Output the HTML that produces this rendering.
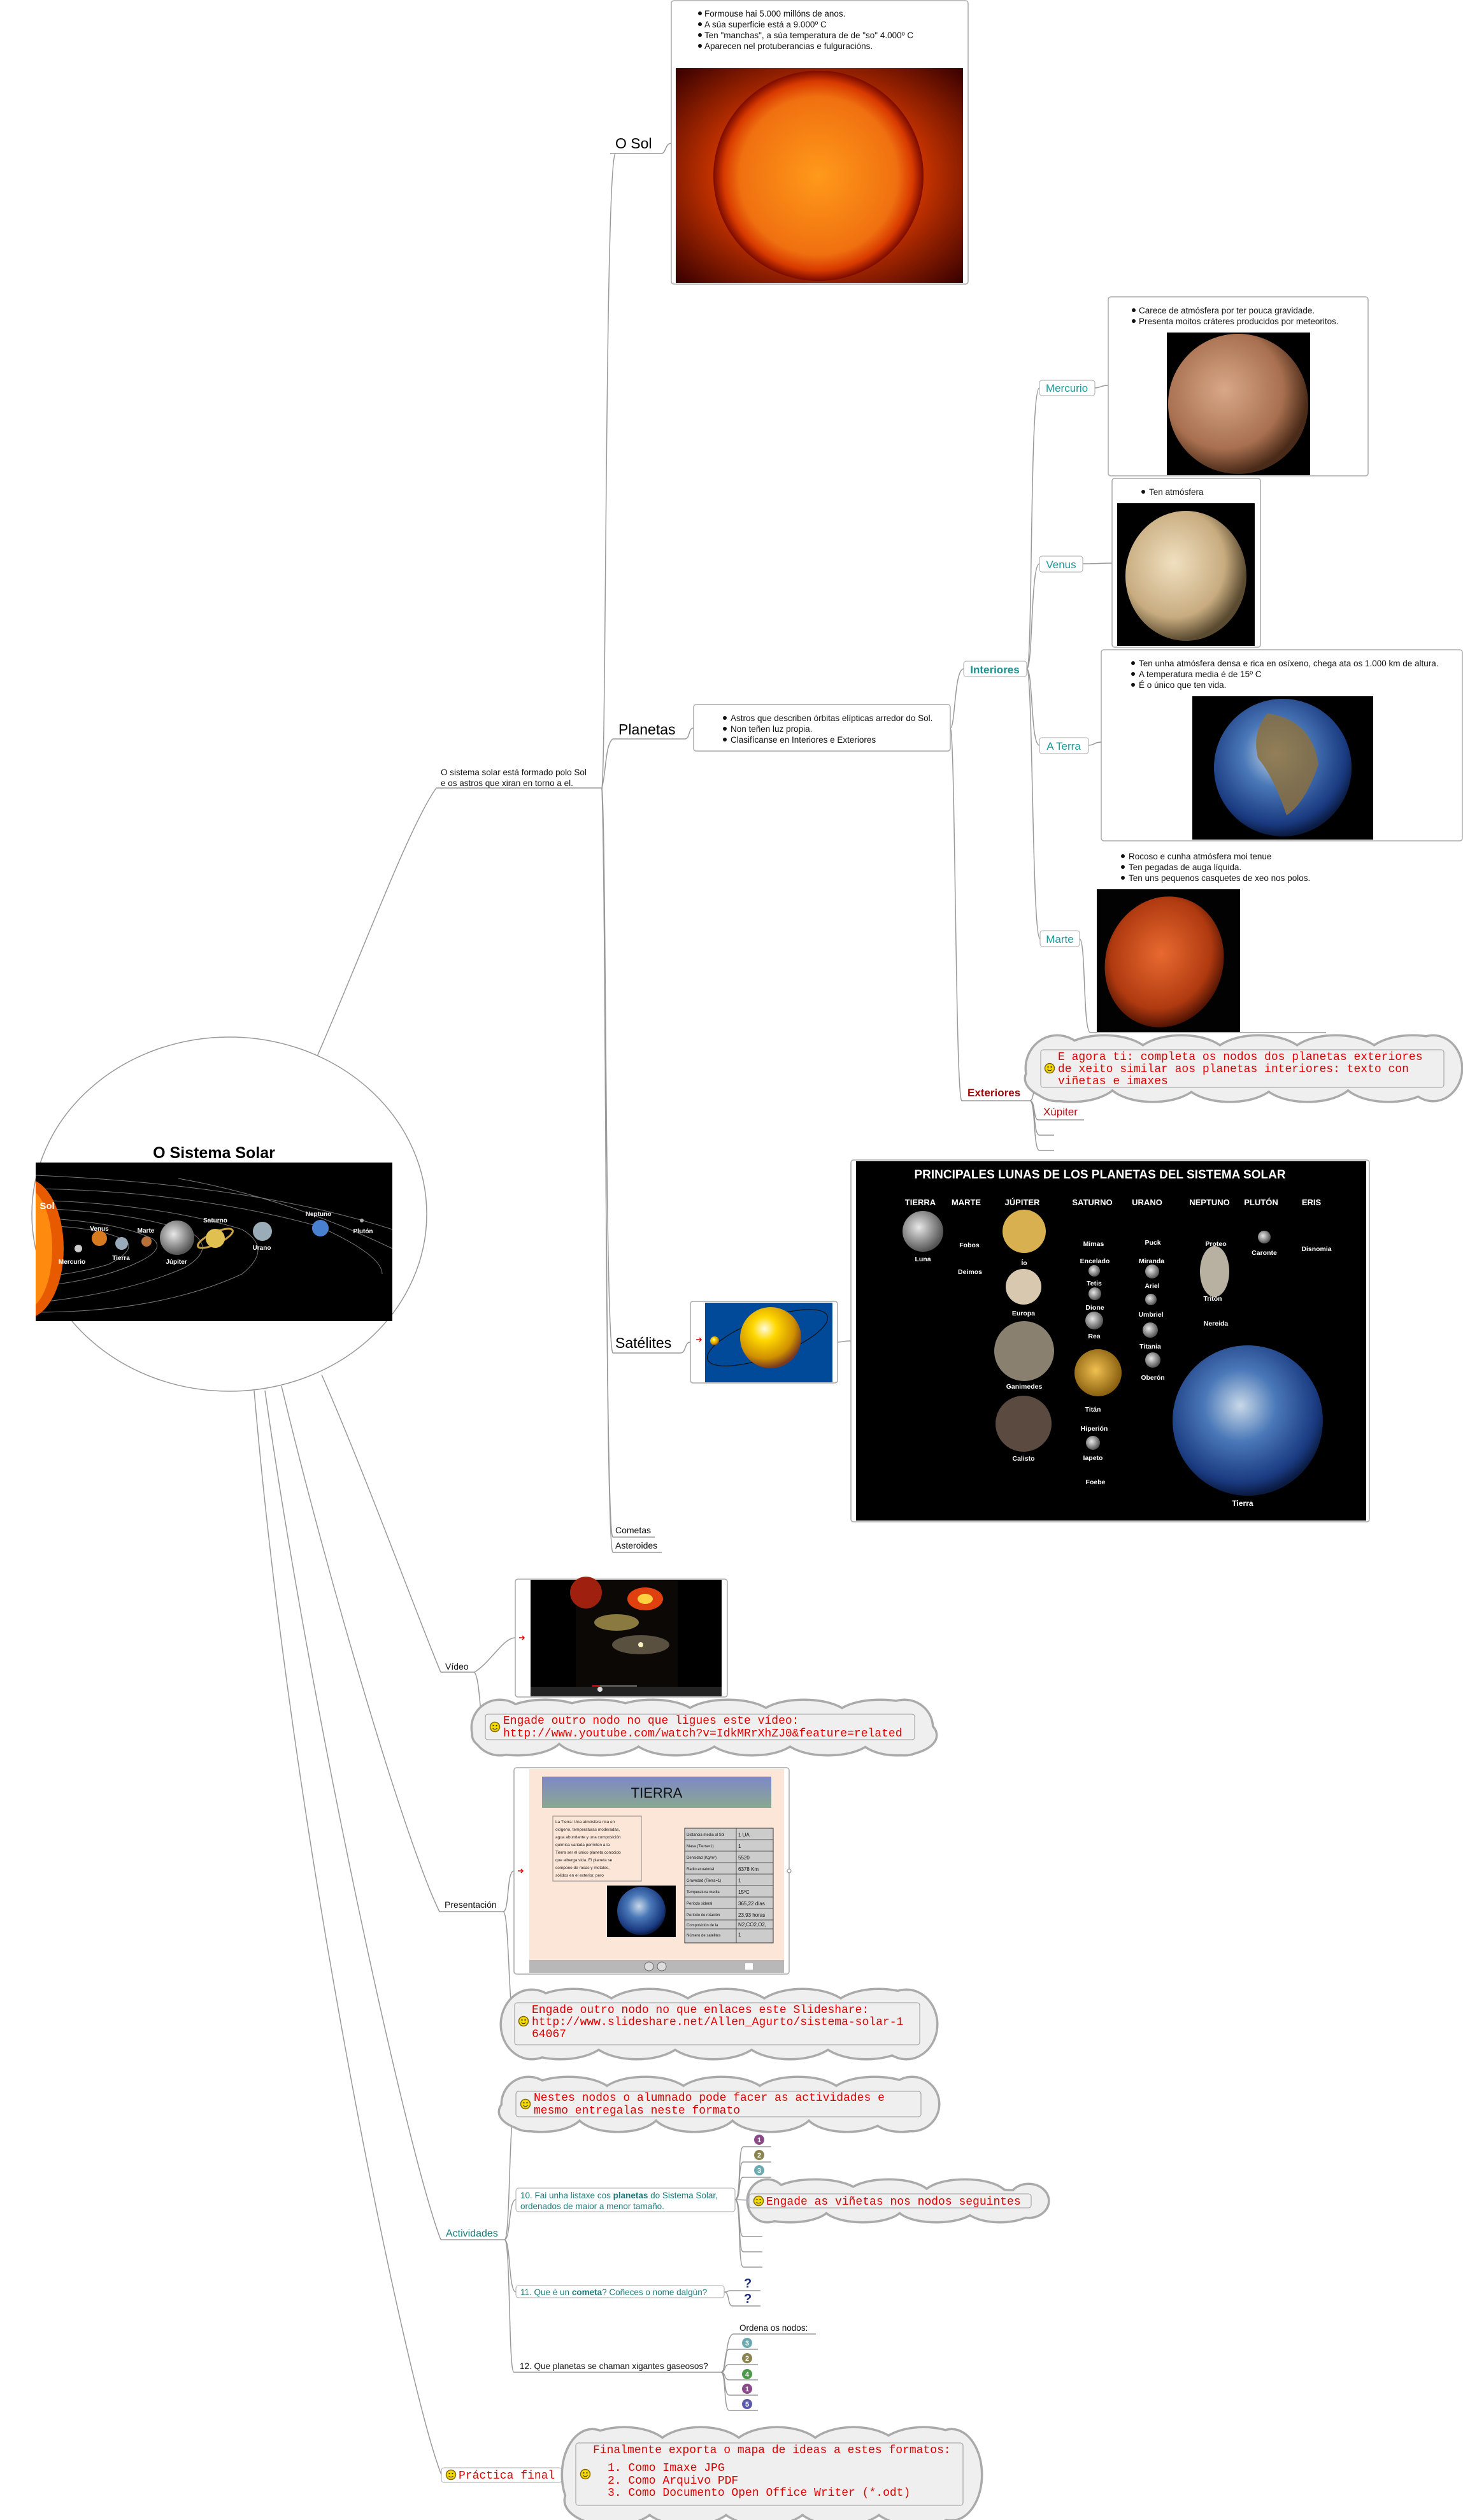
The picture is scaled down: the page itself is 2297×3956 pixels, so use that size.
<!DOCTYPE html>
<html><head><meta charset="utf-8">
<style>
html,body{margin:0;padding:0;background:#fff;}
body{width:2297px;height:3956px;position:relative;overflow:hidden;font-family:"Liberation Sans",sans-serif;}
svg{position:absolute;left:0;top:0;}
</style></head><body>
<svg width="2297" height="3956" viewBox="0 0 2297 3956" xmlns="http://www.w3.org/2000/svg" font-family="Liberation Sans, sans-serif">
<defs>
<radialGradient id="sun" cx="50%" cy="50%" r="50%"><stop offset="0" stop-color="#ff9a1a"/><stop offset="0.75" stop-color="#f07010"/><stop offset="0.9" stop-color="#d83a00"/><stop offset="1" stop-color="#7a0a00"/></radialGradient>
<radialGradient id="sunbg" cx="50%" cy="50%" r="70%"><stop offset="0.4" stop-color="#e84000"/><stop offset="1" stop-color="#3a0000"/></radialGradient>
<radialGradient id="merc" cx="40%" cy="40%" r="60%"><stop offset="0" stop-color="#d8a888"/><stop offset="0.7" stop-color="#a87050"/><stop offset="1" stop-color="#4a2a18"/></radialGradient>
<radialGradient id="ven" cx="40%" cy="40%" r="60%"><stop offset="0" stop-color="#f0e0c0"/><stop offset="0.7" stop-color="#c8ac80"/><stop offset="1" stop-color="#5a4a30"/></radialGradient>
<radialGradient id="earth" cx="45%" cy="40%" r="60%"><stop offset="0" stop-color="#c8d8e8"/><stop offset="0.4" stop-color="#4a78b8"/><stop offset="0.85" stop-color="#1a3a80"/><stop offset="1" stop-color="#0a1a40"/></radialGradient>
<radialGradient id="mars" cx="45%" cy="45%" r="60%"><stop offset="0" stop-color="#e86a30"/><stop offset="0.7" stop-color="#b03a10"/><stop offset="1" stop-color="#3a0a00"/></radialGradient>
<radialGradient id="yel" cx="40%" cy="35%" r="65%"><stop offset="0" stop-color="#fffbe0"/><stop offset="0.3" stop-color="#ffd800"/><stop offset="0.75" stop-color="#d09000"/><stop offset="1" stop-color="#7a3a20"/></radialGradient>
<radialGradient id="gray" cx="40%" cy="40%" r="60%"><stop offset="0" stop-color="#e8e8e8"/><stop offset="1" stop-color="#555"/></radialGradient>
<radialGradient id="titan" cx="45%" cy="45%" r="55%"><stop offset="0" stop-color="#f0c050"/><stop offset="1" stop-color="#8a6010"/></radialGradient>
<linearGradient id="band" x1="0" y1="0" x2="0" y2="1"><stop offset="0" stop-color="#7e88c8"/><stop offset="1" stop-color="#8aa890"/></linearGradient>
<g id="cA"><rect x="1660" y="1650" width="590" height="55"/><ellipse cx="1660" cy="1677" rx="48" ry="50"/><ellipse cx="2250" cy="1677" rx="44" ry="50"/>
<ellipse cx="1734" cy="1662" rx="72" ry="35"/><ellipse cx="1855" cy="1662" rx="72" ry="35"/><ellipse cx="1976" cy="1662" rx="72" ry="35"/><ellipse cx="2097" cy="1662" rx="72" ry="35"/><ellipse cx="2218" cy="1662" rx="72" ry="35"/>
<ellipse cx="1683" cy="1693" rx="72" ry="35"/><ellipse cx="1810" cy="1693" rx="72" ry="35"/><ellipse cx="1931" cy="1693" rx="72" ry="35"/><ellipse cx="2053" cy="1693" rx="72" ry="35"/><ellipse cx="2180" cy="1693" rx="72" ry="35"/></g>
<g id="cV"><rect x="785" y="2690" width="635" height="45"/><ellipse cx="785" cy="2712" rx="43" ry="42"/><ellipse cx="1420" cy="2712" rx="43" ry="42"/>
<ellipse cx="856" cy="2700" rx="72" ry="30"/><ellipse cx="1024" cy="2700" rx="72" ry="30"/><ellipse cx="1143" cy="2700" rx="72" ry="30"/><ellipse cx="1262" cy="2700" rx="72" ry="30"/><ellipse cx="1382" cy="2700" rx="72" ry="30"/><ellipse cx="940" cy="2700" rx="72" ry="30"/>
<ellipse cx="813" cy="2724" rx="70" ry="30"/><ellipse cx="943" cy="2724" rx="70" ry="30"/><ellipse cx="1062" cy="2724" rx="70" ry="30"/><ellipse cx="1181" cy="2724" rx="70" ry="30"/><ellipse cx="1300" cy="2724" rx="70" ry="30"/><ellipse cx="1409" cy="2724" rx="60" ry="30"/></g>
<g id="cP"><rect x="835" y="3145" width="588" height="65"/><ellipse cx="835" cy="3178" rx="47" ry="53"/><ellipse cx="1423" cy="3178" rx="47" ry="53"/>
<ellipse cx="900" cy="3162" rx="75" ry="38"/><ellipse cx="1020" cy="3162" rx="75" ry="38"/><ellipse cx="1140" cy="3162" rx="75" ry="38"/><ellipse cx="1260" cy="3162" rx="75" ry="38"/><ellipse cx="1380" cy="3162" rx="75" ry="38"/>
<ellipse cx="880" cy="3193" rx="75" ry="38"/><ellipse cx="1000" cy="3193" rx="75" ry="38"/><ellipse cx="1120" cy="3193" rx="75" ry="38"/><ellipse cx="1240" cy="3193" rx="75" ry="38"/><ellipse cx="1360" cy="3193" rx="75" ry="38"/></g>
<g id="cN"><rect x="830" y="3282" width="602" height="42"/><ellipse cx="830" cy="3303" rx="41" ry="41"/><ellipse cx="1432" cy="3303" rx="41" ry="41"/>
<ellipse cx="893" cy="3292" rx="70" ry="30"/><ellipse cx="1013" cy="3292" rx="70" ry="30"/><ellipse cx="1133" cy="3292" rx="70" ry="30"/><ellipse cx="1253" cy="3292" rx="70" ry="30"/><ellipse cx="1373" cy="3292" rx="70" ry="30"/>
<ellipse cx="850" cy="3315" rx="65" ry="30"/><ellipse cx="970" cy="3315" rx="65" ry="30"/><ellipse cx="1090" cy="3315" rx="65" ry="30"/><ellipse cx="1210" cy="3315" rx="65" ry="30"/><ellipse cx="1330" cy="3315" rx="65" ry="30"/><ellipse cx="1415" cy="3315" rx="50" ry="30"/></g>
<g id="cE"><rect x="1205" y="3440" width="410" height="30"/><ellipse cx="1205" cy="3455" rx="30" ry="32"/><ellipse cx="1615" cy="3455" rx="30" ry="25"/>
<ellipse cx="1280" cy="3448" rx="70" ry="25"/><ellipse cx="1395" cy="3448" rx="65" ry="25"/><ellipse cx="1515" cy="3448" rx="65" ry="25"/>
<ellipse cx="1240" cy="3463" rx="62" ry="24"/><ellipse cx="1355" cy="3463" rx="62" ry="24"/><ellipse cx="1470" cy="3463" rx="62" ry="24"/><ellipse cx="1570" cy="3463" rx="55" ry="24"/></g>
<g id="cF"><rect x="930" y="3835" width="564" height="100"/><ellipse cx="930" cy="3885" rx="46" ry="70"/><ellipse cx="1494" cy="3885" rx="46" ry="70"/>
<ellipse cx="980" cy="3850" rx="72" ry="38"/><ellipse cx="1100" cy="3850" rx="72" ry="38"/><ellipse cx="1220" cy="3850" rx="72" ry="38"/><ellipse cx="1340" cy="3850" rx="72" ry="38"/><ellipse cx="1450" cy="3850" rx="72" ry="38"/>
<ellipse cx="960" cy="3925" rx="72" ry="38"/><ellipse cx="1080" cy="3925" rx="72" ry="38"/><ellipse cx="1200" cy="3925" rx="72" ry="38"/><ellipse cx="1320" cy="3925" rx="72" ry="38"/><ellipse cx="1440" cy="3925" rx="72" ry="38"/></g>
<g id="smile"><circle r="7.5" fill="#f5d800" stroke="#806a00" stroke-width="1.5"/><circle cx="-2.5" cy="-2" r="1.1" fill="#333"/><circle cx="2.5" cy="-2" r="1.1" fill="#333"/><path d="M-3.5,2 Q0,5.5 3.5,2" fill="none" stroke="#333" stroke-width="1"/></g>
</defs>

<!-- connectors -->
<g fill="none" stroke="#999" stroke-width="1.5">
<path d="M487,1683 C560,1520 640,1300 685,1237"/>
<path d="M505,2158 C580,2330 660,2550 692,2625"/>
<path d="M442,2176 C520,2500 640,2900 690,3001"/>
<path d="M416,2183 C490,2700 640,3380 692,3516"/>
<path d="M399,2183 C460,2900 640,3750 693,3885"/>
<line x1="685" y1="1237" x2="945" y2="1237"/>
<path d="M945,1237 C952,1200 950,260 966,241"/>
<path d="M945,1237 C952,1210 950,1170 962,1160"/>
<path d="M945,1237 C952,1300 950,2100 962,2124"/>
<path d="M945,1237 C952,1400 950,2400 962,2413"/>
<path d="M945,1237 C952,1400 950,2420 962,2437"/>
<line x1="958" y1="241" x2="1038" y2="241"/><path d="M1038,241 C1046,241 1044,225 1054,225"/>
<line x1="962" y1="1160" x2="1075" y2="1160"/><path d="M1075,1160 C1084,1160 1080,1143 1089,1143"/>
<path d="M1492,1143 C1500,1143 1498,1050 1513,1050"/>
<path d="M1492,1143 C1500,1143 1500,1728 1510,1728"/><line x1="1510" y1="1728" x2="1617" y2="1728"/>
<path d="M1612,1050 C1622,1050 1616,609 1632,609"/>
<path d="M1612,1050 C1622,1050 1618,885 1632,885"/>
<path d="M1612,1050 C1622,1050 1618,1170 1632,1170"/>
<path d="M1612,1050 C1622,1050 1620,1474 1633,1474"/>
<path d="M1719,609 C1728,609 1728,605 1740,605"/>
<path d="M1700,885 C1720,885 1730,884 1746,884"/>
<path d="M1709,1170 C1718,1170 1718,1165 1729,1165"/>
<path d="M1695,1474 C1705,1474 1700,1621 1712,1621"/><line x1="1712" y1="1621" x2="2082" y2="1621"/>
<path d="M1617,1728 C1626,1728 1622,1677 1634,1677"/>
<path d="M1617,1728 C1626,1728 1622,1758 1630,1758"/><line x1="1630" y1="1758" x2="1702" y2="1758"/>
<path d="M1617,1728 C1626,1728 1622,1782 1632,1782"/><line x1="1632" y1="1782" x2="1655" y2="1782"/>
<path d="M1617,1728 C1626,1728 1622,1806 1632,1806"/><line x1="1632" y1="1806" x2="1655" y2="1806"/>
<line x1="962" y1="2124" x2="1068" y2="2124"/><path d="M1068,2124 C1078,2124 1074,2107 1084,2107"/>
<path d="M1315,2107 C1325,2107 1322,2105 1336,2105"/>
<line x1="962" y1="2413" x2="1028" y2="2413"/><line x1="962" y1="2437" x2="1039" y2="2437"/>
<line x1="692" y1="2625" x2="745" y2="2625"/>
<path d="M745,2625 C770,2610 790,2571 809,2571"/>
<path d="M745,2625 C755,2640 752,2705 762,2711"/>
<line x1="690" y1="3001" x2="790" y2="3001"/>
<path d="M790,3001 C800,3001 795,2937 807,2937"/>
<path d="M790,3001 C800,3001 798,3173 808,3173"/>
<line x1="692" y1="3516" x2="792" y2="3516"/>
<path d="M792,3516 C802,3516 798,3303 810,3303"/>
<path d="M792,3516 C802,3516 798,3453 810,3453"/>
<path d="M792,3516 C802,3516 798,3598 810,3598"/>
<path d="M792,3516 C802,3516 798,3724 807,3724"/><line x1="807" y1="3724" x2="1132" y2="3724"/>
<path d="M1154,3453 C1164,3453 1158,3370 1167,3370"/><line x1="1167" y1="3370" x2="1211" y2="3370"/>
<path d="M1154,3453 C1164,3453 1158,3394 1167,3394"/><line x1="1167" y1="3394" x2="1211" y2="3394"/>
<path d="M1154,3453 C1164,3453 1158,3418 1167,3418"/><line x1="1167" y1="3418" x2="1211" y2="3418"/>
<path d="M1154,3453 L1176,3454"/>
<path d="M1154,3453 C1164,3453 1158,3511 1167,3511"/><line x1="1167" y1="3511" x2="1197" y2="3511"/>
<path d="M1154,3453 C1164,3453 1158,3535 1167,3535"/><line x1="1167" y1="3535" x2="1197" y2="3535"/>
<path d="M1154,3453 C1164,3453 1158,3559 1167,3559"/><line x1="1167" y1="3559" x2="1197" y2="3559"/>
<path d="M1137,3598 C1146,3598 1140,3596 1147,3596"/><line x1="1147" y1="3596" x2="1194" y2="3596"/>
<path d="M1137,3598 C1146,3598 1142,3620 1150,3620"/><line x1="1150" y1="3620" x2="1194" y2="3620"/>
<path d="M1132,3724 C1142,3724 1138,3664 1152,3664"/><line x1="1152" y1="3664" x2="1281" y2="3664"/>
<path d="M1132,3724 C1140,3724 1136,3688 1145,3688"/><line x1="1145" y1="3688" x2="1190" y2="3688"/>
<path d="M1132,3724 C1140,3724 1136,3712 1145,3712"/><line x1="1145" y1="3712" x2="1190" y2="3712"/>
<path d="M1132,3724 C1140,3724 1136,3736 1145,3736"/><line x1="1145" y1="3736" x2="1190" y2="3736"/>
<path d="M1132,3724 C1140,3724 1136,3760 1145,3760"/><line x1="1145" y1="3760" x2="1190" y2="3760"/>
<path d="M1132,3724 C1140,3724 1136,3784 1145,3784"/><line x1="1145" y1="3784" x2="1190" y2="3784"/>
<line x1="882" y1="3885" x2="904" y2="3884"/>
</g>

<!-- central ellipse -->
<ellipse cx="360" cy="1906" rx="310" ry="278" fill="#fff" stroke="#999" stroke-width="1.5"/>
<text x="336" y="1818" font-size="25" font-weight="bold" text-anchor="middle" fill="#000">O Sistema Solar</text>
<rect x="56" y="1825" width="560" height="249" fill="#000"/>
<g fill="none" stroke="#777" stroke-width="1">
<path d="M56,1845 Q400,1860 616,1930"/><path d="M56,1866 Q300,1870 500,1925 Q600,1970 600,2000"/>
<path d="M56,1884 Q250,1890 380,1930 Q430,1960 380,2000 Q250,2060 56,2060"/>
<path d="M80,1898 Q220,1905 300,1935 Q340,1960 290,1990 Q200,2030 56,2045"/>
<path d="M80,1913 Q190,1920 240,1945 Q260,1960 220,1980 Q160,2010 56,2020"/>
<path d="M90,1925 Q170,1930 200,1950 Q210,1965 170,1985 Q120,2000 56,2005"/>
<path d="M280,1850 Q450,1880 616,1960"/>
</g>
<clipPath id="ssclip"><rect x="56" y="1825" width="560" height="249"/></clipPath>
<g clip-path="url(#ssclip)"><ellipse cx="40" cy="1960" rx="60" ry="110" fill="#e85a00"/>
<ellipse cx="40" cy="1960" rx="42" ry="95" fill="#ff8a10"/></g>
<circle cx="123" cy="1960" r="6" fill="#ccc"/><circle cx="156" cy="1944" r="12" fill="#d87a20"/><circle cx="191" cy="1952" r="10" fill="#9ab"/><circle cx="230" cy="1949" r="8" fill="#b8703a"/>
<circle cx="278" cy="1943" r="27" fill="url(#gray)"/><ellipse cx="338" cy="1944" rx="30" ry="9" fill="none" stroke="#c8a040" stroke-width="3" transform="rotate(-25 338 1944)"/><circle cx="338" cy="1944" r="15" fill="#e0c050"/>
<circle cx="412" cy="1933" r="15" fill="#9aacb8"/><circle cx="503" cy="1928" r="13" fill="#4a80d0"/><circle cx="568" cy="1916" r="3" fill="#aaa"/>
<g fill="#fff" font-size="10" font-weight="bold" text-anchor="middle">
<text x="74" y="1898" font-size="15">Sol</text>
<text x="113" y="1984">Mercurio</text><text x="156" y="1932">Venus</text><text x="190" y="1978">Tierra</text><text x="229" y="1935">Marte</text><text x="277" y="1984">Júpiter</text><text x="338" y="1919">Saturno</text><text x="411" y="1962">Urano</text><text x="500" y="1909">Neptuno</text><text x="570" y="1936">Plutón</text>
</g>

<!-- central text -->
<text font-size="13.5" fill="#111"><tspan x="692" y="1217">O sistema solar está formado polo Sol</tspan><tspan x="692" y="1234">e os astros que xiran en torno a el.</tspan></text>

<!-- O Sol -->
<text x="966" y="233" font-size="23" fill="#000">O Sol</text>
<rect x="1054" y="1" width="466" height="445" rx="4" fill="#fff" stroke="#aaa" stroke-width="1.5"/>
<g font-size="13.5" fill="#111"><text x="1106" y="26">Formouse hai 5.000 millóns de anos.</text><text x="1106" y="43">A súa superficie está a 9.000º C</text><text x="1106" y="60">Ten "manchas", a súa temperatura de de "so" 4.000º C</text><text x="1106" y="77">Aparecen nel protuberancias e fulguracións.</text></g>
<g fill="#111"><circle cx="1099" cy="21" r="3"/><circle cx="1099" cy="38" r="3"/><circle cx="1099" cy="55" r="3"/><circle cx="1099" cy="72" r="3"/></g>
<rect x="1061" y="107" width="451" height="337" fill="url(#sunbg)"/>
<circle cx="1285" cy="276" r="165" fill="url(#sun)"/>

<!-- Planetas -->
<text x="971" y="1153" font-size="23" fill="#000">Planetas</text>
<rect x="1089" y="1106" width="403" height="73" rx="4" fill="#fff" stroke="#aaa" stroke-width="1.5"/>
<g font-size="13.5" fill="#111"><text x="1147" y="1132">Astros que describen órbitas elípticas arredor do Sol.</text><text x="1147" y="1149">Non teñen luz propia.</text><text x="1147" y="1166">Clasifícanse en Interiores e Exteriores</text></g>
<g fill="#111"><circle cx="1138" cy="1127" r="3"/><circle cx="1138" cy="1144" r="3"/><circle cx="1138" cy="1161" r="3"/></g>

<rect x="1513" y="1038" width="99" height="24" rx="4" fill="#fff" stroke="#aaa"/>
<text x="1562" y="1057" font-size="17" font-weight="bold" fill="#1a9090" text-anchor="middle">Interiores</text>
<g fill="#fff" stroke="#aaa"><rect x="1632" y="597" width="87" height="24" rx="4"/><rect x="1632" y="873" width="68" height="25" rx="4"/><rect x="1632" y="1158" width="77" height="25" rx="4"/><rect x="1633" y="1461" width="62" height="25" rx="4"/></g>
<g font-size="17" fill="#1a9a9a" text-anchor="middle"><text x="1675" y="615">Mercurio</text><text x="1666" y="892">Venus</text><text x="1670" y="1177">A Terra</text><text x="1664" y="1480">Marte</text></g>

<rect x="1740" y="466" width="408" height="281" rx="4" fill="#fff" stroke="#aaa" stroke-width="1.5"/>
<g font-size="13.5" fill="#111"><text x="1788" y="492">Carece de atmósfera por ter pouca gravidade.</text><text x="1788" y="509">Presenta moitos cráteres producidos por meteoritos.</text></g>
<g fill="#111"><circle cx="1780" cy="487" r="3"/><circle cx="1780" cy="504" r="3"/></g>
<rect x="1832" y="522" width="225" height="224" fill="#000"/><circle cx="1944" cy="634" r="110" fill="url(#merc)"/>

<rect x="1746" y="751" width="233" height="265" rx="4" fill="#fff" stroke="#aaa" stroke-width="1.5"/>
<text x="1804" y="777" font-size="13.5" fill="#111">Ten atmósfera</text><circle cx="1795" cy="772" r="3" fill="#111"/>
<rect x="1754" y="790" width="216" height="224" fill="#000"/><ellipse cx="1862" cy="904" rx="95" ry="102" fill="url(#ven)"/>

<rect x="1729" y="1020" width="567" height="300" rx="4" fill="#fff" stroke="#aaa" stroke-width="1.5"/>
<g font-size="13.5" fill="#111"><text x="1788" y="1046">Ten unha atmósfera densa e rica en osíxeno, chega ata os 1.000 km de altura.</text><text x="1788" y="1063">A temperatura media é de 15º C</text><text x="1788" y="1080">É o único que ten vida.</text></g>
<g fill="#111"><circle cx="1779" cy="1041" r="3"/><circle cx="1779" cy="1058" r="3"/><circle cx="1779" cy="1075" r="3"/></g>
<rect x="1872" y="1093" width="284" height="225" fill="#000"/><circle cx="2014" cy="1205" r="108" fill="url(#earth)"/>
<path d="M1990,1120 Q2060,1130 2070,1200 Q2050,1260 2020,1280 Q2000,1220 1975,1190 Q1965,1150 1990,1120Z" fill="#8a7040" opacity="0.85"/>

<g font-size="13.5" fill="#111"><text x="1772" y="1349">Rocoso e cunha atmósfera moi tenue</text><text x="1772" y="1366">Ten pegadas de auga líquida.</text><text x="1772" y="1383">Ten uns pequenos casquetes de xeo nos polos.</text></g>
<g fill="#111"><circle cx="1763" cy="1344" r="3"/><circle cx="1763" cy="1361" r="3"/><circle cx="1763" cy="1378" r="3"/></g>
<rect x="1722" y="1396" width="225" height="224" fill="#020202"/><ellipse cx="1828" cy="1510" rx="92" ry="104" fill="url(#mars)" transform="rotate(20 1828 1510)"/>

<!-- cloud A -->
<use href="#cA" fill="#aaa" stroke="#aaa" stroke-width="7"/><use href="#cA" fill="#efefef"/>
<rect x="1634" y="1648" width="633" height="59" rx="4" fill="#efefef" stroke="#999"/>
<use href="#smile" x="1648" y="1677"/>
<g font-family="Liberation Mono, monospace" font-size="18" fill="#e00000"><text x="1661" y="1664">E agora ti: completa os nodos dos planetas exteriores</text><text x="1661" y="1683">de xeito similar aos planetas interiores: texto con</text><text x="1661" y="1702">viñetas e imaxes</text></g>

<text x="1519" y="1721" font-size="17" font-weight="bold" fill="#9a0a0a">Exteriores</text>
<text x="1638" y="1751" font-size="17" fill="#b01010">Xúpiter</text>

<!-- Satelites -->
<text x="966" y="2116" font-size="23" fill="#000">Satélites</text>
<rect x="1084" y="2043" width="231" height="128" rx="4" fill="#fff" stroke="#aaa" stroke-width="1.5"/>
<rect x="1107" y="2045" width="200" height="125" fill="#004a99"/>
<ellipse cx="1205" cy="2100" rx="100" ry="30" fill="none" stroke="#111" stroke-width="1.2" transform="rotate(-20 1205 2100)"/>
<circle cx="1210" cy="2100" r="48" fill="url(#yel)"/><circle cx="1122" cy="2105" r="7" fill="url(#yel)"/>
<path d="M1093,2103 l8,0 m-3,-3 l3,3 l-3,3" stroke="#d00" stroke-width="1.5" fill="none"/>

<rect x="1336" y="1821" width="814" height="568" rx="4" fill="#fff" stroke="#aaa" stroke-width="1.5"/>
<rect x="1344" y="1823" width="801" height="564" fill="#000"/>
<circle cx="1449" cy="1933" r="32" fill="url(#gray)"/>
<circle cx="1608" cy="1933" r="34" fill="#d8b050"/><circle cx="1607" cy="2020" r="28" fill="#d8c8b0"/><circle cx="1608" cy="2121" r="47" fill="#8a8070"/><circle cx="1607" cy="2235" r="44" fill="#5a4a40"/>
<g fill="url(#gray)"><circle cx="1718" cy="1995" r="9"/><circle cx="1719" cy="2031" r="10"/><circle cx="1718" cy="2073" r="14"/><circle cx="1716" cy="2265" r="11"/><circle cx="1809" cy="1996" r="11"/><circle cx="1807" cy="2040" r="9"/><circle cx="1806" cy="2088" r="12"/><circle cx="1810" cy="2135" r="12"/><circle cx="1985" cy="1942" r="10"/></g>
<circle cx="1724" cy="2155" r="37" fill="url(#titan)"/>
<ellipse cx="1907" cy="1996" rx="23" ry="40" fill="#b8b0a0"/>
<circle cx="1959" cy="2230" r="118" fill="url(#earth)"/>
<g fill="#fff" font-weight="bold" text-anchor="middle">
<text x="1727" y="1850" font-size="19">PRINCIPALES  LUNAS  DE  LOS  PLANETAS  DEL  SISTEMA  SOLAR</text>
<g font-size="13"><text x="1445" y="1892">TIERRA</text><text x="1517" y="1892">MARTE</text><text x="1605" y="1892">JÚPITER</text><text x="1715" y="1892">SATURNO</text><text x="1801" y="1892">URANO</text><text x="1899" y="1892">NEPTUNO</text><text x="1980" y="1892">PLUTÓN</text><text x="2059" y="1892">ERIS</text></g>
<g font-size="10.5"><text x="1449" y="1980">Luna</text><text x="1522" y="1958">Fobos</text><text x="1523" y="2000">Deimos</text><text x="1608" y="1986">Ío</text><text x="1607" y="2065">Europa</text><text x="1608" y="2180">Ganimedes</text><text x="1607" y="2293">Calisto</text>
<text x="1717" y="1956">Mimas</text><text x="1719" y="1983">Encelado</text><text x="1718" y="2018">Tetis</text><text x="1719" y="2056">Dione</text><text x="1718" y="2101">Rea</text><text x="1716" y="2216">Titán</text><text x="1718" y="2246">Hiperión</text><text x="1716" y="2292">Iapeto</text><text x="1720" y="2330">Foebe</text>
<text x="1810" y="1954">Puck</text><text x="1808" y="1983">Miranda</text><text x="1809" y="2022">Ariel</text><text x="1807" y="2067">Umbriel</text><text x="1806" y="2117">Titania</text><text x="1810" y="2166">Oberón</text>
<text x="1909" y="1956">Proteo</text><text x="1904" y="2042">Tritón</text><text x="1909" y="2081">Nereida</text><text x="1985" y="1970">Caronte</text><text x="2067" y="1964">Disnomia</text>
<text x="1951" y="2364" font-size="12">Tierra</text></g></g>

<text x="966" y="2407" font-size="14" fill="#111">Cometas</text>
<text x="966" y="2431" font-size="14" fill="#111">Asteroides</text>

<!-- Video -->
<text x="699" y="2621" font-size="14" fill="#111">Vídeo</text>
<rect x="809" y="2479" width="333" height="185" rx="4" fill="#fff" stroke="#aaa" stroke-width="1.5"/>
<rect x="833" y="2480" width="300" height="183" fill="#000"/>
<rect x="904" y="2480" width="160" height="168" fill="#0c0806"/>
<circle cx="920" cy="2500" r="25" fill="#a02010"/><ellipse cx="1013" cy="2510" rx="28" ry="18" fill="#e04010"/><ellipse cx="1013" cy="2510" rx="12" ry="8" fill="#ffd040"/>
<ellipse cx="968" cy="2547" rx="35" ry="13" fill="#8a7a40"/><ellipse cx="1006" cy="2582" rx="45" ry="15" fill="#5a5040"/><circle cx="1006" cy="2582" r="4" fill="#fff0c0"/>
<rect x="833" y="2648" width="300" height="15" fill="#222"/><rect x="930" y="2645" width="70" height="3" fill="#555"/><rect x="930" y="2645" width="12" height="3" fill="#c00"/><circle cx="942" cy="2652" r="4" fill="#ddd"/>
<path d="M815,2571 l8,0 m-3,-3 l3,3 l-3,3" stroke="#d00" stroke-width="1.5" fill="none"/>
<use href="#cV" fill="#aaa" stroke="#aaa" stroke-width="7"/><use href="#cV" fill="#efefef"/>
<rect x="762" y="2691" width="674" height="40" rx="4" fill="#efefef" stroke="#999"/>
<use href="#smile" x="777" y="2711"/>
<g font-family="Liberation Mono, monospace" font-size="18" fill="#e00000"><text x="790" y="2706">Engade outro nodo no que ligues este vídeo:</text><text x="790" y="2726">http://www.youtube.com/watch?v=IdkMRrXhZJ0&amp;feature=related</text></g>

<!-- Presentacion -->
<text x="698" y="2995" font-size="14" fill="#111">Presentación</text>
<rect x="807" y="2775" width="432" height="324" rx="4" fill="#fff" stroke="#aaa" stroke-width="1.5"/>
<rect x="831" y="2777" width="400" height="300" fill="#fbe6d8"/>
<rect x="851" y="2789" width="360" height="49" fill="url(#band)"/>
<text x="1031" y="2822" font-size="22" text-anchor="middle" fill="#111">TIERRA</text>
<rect x="868" y="2851" width="139" height="102" fill="#fbe6d8" stroke="#888"/>
<g font-size="6.5" fill="#222"><text x="872" y="2862">La Tierra: Una atmósfera rica en</text><text x="872" y="2874">oxígeno, temperaturas moderadas,</text><text x="872" y="2886">agua abundante y una composición</text><text x="872" y="2898">química variada permiten a la</text><text x="872" y="2910">Tierra ser el único planeta conocido</text><text x="872" y="2922">que alberga vida. El planeta se</text><text x="872" y="2934">compone de rocas y metales,</text><text x="872" y="2946">sólidos en el exterior, pero</text></g>
<rect x="953" y="2960" width="108" height="81" fill="#000"/><circle cx="1007" cy="3000" r="38" fill="url(#earth)"/>
<rect x="1075" y="2870" width="139" height="180" fill="#ccc" stroke="#333"/>
<g stroke="#333" stroke-width="0.8"><line x1="1156" y1="2870" x2="1156" y2="3050"/><line x1="1075" y1="2888" x2="1214" y2="2888"/><line x1="1075" y1="2906" x2="1214" y2="2906"/><line x1="1075" y1="2924" x2="1214" y2="2924"/><line x1="1075" y1="2942" x2="1214" y2="2942"/><line x1="1075" y1="2960" x2="1214" y2="2960"/><line x1="1075" y1="2978" x2="1214" y2="2978"/><line x1="1075" y1="2996" x2="1214" y2="2996"/><line x1="1075" y1="3014" x2="1214" y2="3014"/><line x1="1075" y1="3028" x2="1214" y2="3028"/></g>
<g font-size="6" fill="#111"><text x="1078" y="2882">Distancia media al Sol</text><text x="1078" y="2900">Masa (Tierra=1)</text><text x="1078" y="2918">Densidad (Kg/m³)</text><text x="1078" y="2936">Radio ecuatorial</text><text x="1078" y="2954">Gravedad (Tierra=1)</text><text x="1078" y="2972">Temperatura media</text><text x="1078" y="2990">Período sideral</text><text x="1078" y="3008">Período de rotación</text><text x="1078" y="3024">Composición de la</text><text x="1078" y="3040">Número de satélites</text></g>
<g font-size="8" fill="#111"><text x="1159" y="2883">1 UA</text><text x="1159" y="2901">1</text><text x="1159" y="2919">5520</text><text x="1159" y="2937">6378 Km</text><text x="1159" y="2955">1</text><text x="1159" y="2973">15ºC</text><text x="1159" y="2991">365,22 días</text><text x="1159" y="3009">23,93 horas</text><text x="1159" y="3024">N2,CO2,O2,</text><text x="1159" y="3040">1</text></g>
<rect x="831" y="3077" width="400" height="20" fill="#b8b8b8"/>
<circle cx="1019" cy="3087" r="7" fill="#ddd" stroke="#666"/><circle cx="1039" cy="3087" r="7" fill="#ddd" stroke="#666"/>
<rect x="1170" y="3082" width="12" height="10" fill="#fff"/>
<path d="M813,2937 l8,0 m-3,-3 l3,3 l-3,3" stroke="#d00" stroke-width="1.5" fill="none"/>
<circle cx="1239" cy="2937" r="3" fill="#fff" stroke="#888"/>
<use href="#cP" fill="#aaa" stroke="#aaa" stroke-width="7"/><use href="#cP" fill="#efefef"/>
<rect x="808" y="3144" width="636" height="66" rx="4" fill="#efefef" stroke="#999"/>
<use href="#smile" x="822" y="3173"/>
<g font-family="Liberation Mono, monospace" font-size="18" fill="#e00000"><text x="835" y="3160">Engade outro nodo no que enlaces este Slideshare:</text><text x="835" y="3179">http://www.slideshare.net/Allen_Agurto/sistema-solar-1</text><text x="835" y="3198">64067</text></g>

<!-- Actividades -->
<use href="#cN" fill="#aaa" stroke="#aaa" stroke-width="7"/><use href="#cN" fill="#efefef"/>
<rect x="810" y="3283" width="636" height="40" rx="4" fill="#efefef" stroke="#999"/>
<use href="#smile" x="825" y="3303"/>
<g font-family="Liberation Mono, monospace" font-size="18" fill="#e00000"><text x="838" y="3298">Nestes nodos o alumnado pode facer as actividades e</text><text x="838" y="3318">mesmo entregalas neste formato</text></g>
<text x="700" y="3511" font-size="16" fill="#1a7a7a">Actividades</text>
<rect x="810" y="3435" width="344" height="37" rx="4" fill="#fff" stroke="#aaa"/>
<g font-size="13.5" fill="#1a7a7a"><text x="817" y="3451">10. Fai unha listaxe cos <tspan font-weight="bold">planetas</tspan> do Sistema Solar,</text><text x="817" y="3468">ordenados de maior a menor tamaño.</text></g>
<rect x="810" y="3588" width="327" height="19" rx="4" fill="#fff" stroke="#aaa"/>
<text x="817" y="3603" font-size="13.5" fill="#1a7a7a">11. Que é un <tspan font-weight="bold">cometa</tspan>? Coñeces o nome dalgún?</text>
<text x="816" y="3719" font-size="13.5" fill="#111">12. Que planetas se chaman xigantes gaseosos?</text>
<text x="1161" y="3659" font-size="13.5" fill="#111">Ordena os nodos:</text>
<g font-size="11" font-weight="bold" fill="#fff" text-anchor="middle">
<circle cx="1192" cy="3359" r="8" fill="#8a4a8a"/><text x="1192" y="3363">1</text>
<circle cx="1192" cy="3383" r="8" fill="#8a8450"/><text x="1192" y="3387">2</text>
<circle cx="1192" cy="3407" r="8" fill="#6aaab0"/><text x="1192" y="3411">3</text>
<circle cx="1173" cy="3678" r="8" fill="#6aaab0"/><text x="1173" y="3682">3</text>
<circle cx="1173" cy="3702" r="8" fill="#8a8450"/><text x="1173" y="3706">2</text>
<circle cx="1173" cy="3727" r="8" fill="#4a9a4a"/><text x="1173" y="3731">4</text>
<circle cx="1173" cy="3750" r="8" fill="#8a4a8a"/><text x="1173" y="3754">1</text>
<circle cx="1173" cy="3774" r="8" fill="#5a5aaa"/><text x="1173" y="3778">5</text>
</g>
<g font-size="20" font-weight="bold" fill="#1a2a7a"><text x="1168" y="3591">?</text><text x="1168" y="3615">?</text></g>
<use href="#cE" fill="#aaa" stroke="#aaa" stroke-width="7"/><use href="#cE" fill="#efefef"/>
<rect x="1176" y="3444" width="443" height="22" rx="4" fill="#efefef" stroke="#999"/>
<use href="#smile" x="1191" y="3455"/>
<text x="1203" y="3461" font-family="Liberation Mono, monospace" font-size="18" fill="#e00000">Engade as viñetas nos nodos seguintes</text>

<!-- Practica final -->
<rect x="693" y="3874" width="189" height="23" rx="4" fill="#fff" stroke="#aaa"/>
<use href="#smile" x="708" y="3885"/>
<text x="720" y="3891" font-family="Liberation Mono, monospace" font-size="18" fill="#e00000">Práctica final</text>
<use href="#cF" fill="#aaa" stroke="#aaa" stroke-width="7"/><use href="#cF" fill="#efefef"/>
<rect x="904" y="3835" width="608" height="98" rx="4" fill="#efefef" stroke="#999"/>
<use href="#smile" x="919" y="3884"/>
<g font-family="Liberation Mono, monospace" font-size="18" fill="#e00000"><text x="931" y="3851">Finalmente exporta o mapa de ideas a estes formatos:</text><text x="954" y="3879">1. Como Imaxe JPG</text><text x="954" y="3899">2. Como Arquivo PDF</text><text x="954" y="3918">3. Como Documento Open Office Writer (*.odt)</text></g>
</svg>
</body></html>
